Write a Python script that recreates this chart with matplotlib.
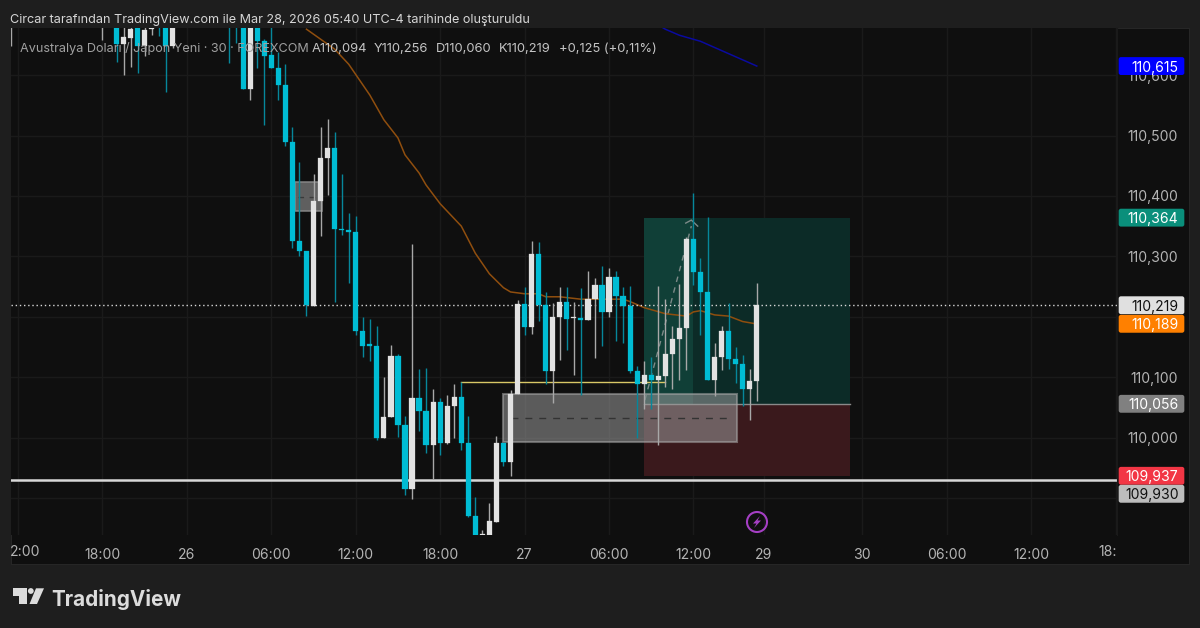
import matplotlib
matplotlib.use('Agg')
import matplotlib.pyplot as plt
from matplotlib.patches import Rectangle, FancyBboxPatch, Polygon, Circle

plt.rcParams['font.family'] = ['Inter', 'DejaVu Sans']

BG = '#1e1e1e'
PANEL = '#0f0f0f'
GRID = '#1a1a1a'
CYAN = '#00bcd4'
CYAN_W = '#06879b'
WHITE = '#e2e2e2'
WHITE_W = '#a8a8a8'

# bars are counted in 30 minute steps from 18:00 on the 25th
bars = [-13, 0, 2, 3, 4, 5, 6, 7, 8, 9, 10, 18, 19, 20, 21, 22, 23, 24, 25, 26, 27, 28, 29,
        30, 31, 32, 33, 34, 35, 36, 37, 38, 39, 40, 41, 42, 43, 44, 45, 46, 47, 48, 49, 50,
        51, 52, 53, 54, 55, 56, 57, 58, 59, 60, 61, 62, 63, 64, 65, 66, 67, 68, 69, 70, 71,
        72, 73, 74, 75, 76, 77, 78, 79, 80, 81, 82, 83, 84, 85, 86, 87, 88, 89, 90, 91, 92, 93]
opens = [110.700, 110.690, 110.700, 110.651, 110.661, 110.700, 110.648, 110.676, 110.700, 110.700, 110.648,
         110.720, 110.720, 110.700, 110.577, 110.700, 110.656, 110.633, 110.612, 110.584, 110.489, 110.325, 110.309,
         110.218, 110.392, 110.463, 110.479, 110.346, 110.344, 110.340, 110.176, 110.154, 110.152, 110.000, 110.034,
         110.135, 110.021, 109.915, 110.065, 110.044, 109.988, 110.058, 109.991, 110.053,
         110.067, 109.991, 109.870, 109.830, 109.830, 109.860, 109.991, 109.960, 110.072, 110.221, 110.183, 110.304,
         110.220, 110.110, 110.199, 110.225, 110.198, 110.198, 110.195, 110.229, 110.253,
         110.207, 110.265, 110.235, 110.217, 110.110, 110.088, 110.103, 110.095, 110.102, 110.139, 110.163, 110.181,
         110.329, 110.274, 110.241, 110.095, 110.133, 110.176, 110.130, 110.122, 110.080, 110.093]
highs = [110.720, 110.720, 110.720, 110.700, 110.690, 110.720, 110.690, 110.680, 110.720, 110.720, 110.720,
         110.730, 110.730, 110.720, 110.720, 110.720, 110.660, 110.680, 110.638, 110.618, 110.514, 110.456, 110.309,
         110.436, 110.514, 110.528, 110.505, 110.437, 110.372, 110.366, 110.200, 110.196, 110.185, 110.100, 110.153,
         110.139, 110.036, 110.320, 110.113, 110.115, 110.081, 110.065, 110.070, 110.089,
         110.092, 110.036, 109.901, 109.847, 109.891, 110.003, 109.991, 110.079, 110.228, 110.249, 110.326, 110.324,
         110.241, 110.222, 110.249, 110.249, 110.225, 110.247, 110.276, 110.264, 110.284,
         110.280, 110.276, 110.250, 110.251, 110.119, 110.126, 110.133, 110.251, 110.229, 110.185, 110.254, 110.332,
         110.404, 110.298, 110.365, 110.156, 110.185, 110.222, 110.150, 110.136, 110.113, 110.255]
lows = [110.648, 110.658, 110.622, 110.600, 110.613, 110.603, 110.632, 110.666, 110.665, 110.572, 110.645,
        110.620, 110.653, 110.577, 110.559, 110.612, 110.517, 110.612, 110.559, 110.483, 110.314, 110.301, 110.202,
        110.218, 110.334, 110.401, 110.225, 110.335, 110.256, 110.169, 110.133, 110.127, 109.996, 110.000, 110.034,
        110.001, 109.905, 109.898, 110.010, 109.975, 109.931, 109.971, 109.990, 109.999,
        109.979, 109.868, 109.820, 109.820, 109.820, 109.860, 109.953, 109.937, 110.072, 110.170, 110.171, 110.193,
        110.089, 110.057, 110.128, 110.145, 110.103, 110.070, 110.195, 110.132, 110.152,
        110.200, 110.160, 110.156, 110.107, 110.000, 110.047, 110.047, 109.988, 110.084, 110.081, 110.096, 110.112,
        110.252, 110.170, 110.095, 110.068, 110.112, 110.113, 110.090, 110.052, 110.029, 110.061]
closes = [110.710, 110.700, 110.651, 110.663, 110.676, 110.648, 110.675, 110.678, 110.680, 110.648, 110.700,
          110.700, 110.700, 110.577, 110.700, 110.656, 110.632, 110.612, 110.584, 110.489, 110.325, 110.309, 110.219,
          110.392, 110.463, 110.479, 110.345, 110.344, 110.340, 110.176, 110.152, 110.152, 110.000, 110.034, 110.135,
          110.021, 109.915, 110.065, 110.044, 109.988, 110.058, 109.991, 110.053, 110.067,
          109.991, 109.870, 109.830, 109.840, 109.861, 109.991, 109.960, 110.072, 110.221, 110.183, 110.304, 110.219,
          110.110, 110.199, 110.225, 110.196, 110.200, 110.195, 110.229, 110.253, 110.207,
          110.265, 110.235, 110.217, 110.110, 110.088, 110.103, 110.095, 110.102, 110.139, 110.163, 110.181, 110.329,
          110.274, 110.241, 110.095, 110.133, 110.176, 110.130, 110.122, 110.080, 110.093, 110.219]

ma_bars = [29, 33, 35, 38, 40, 42, 43, 45, 46, 48, 51, 53, 55, 57, 58, 60, 62, 63, 65, 68, 71, 74, 75, 76, 77,
           80, 83, 84, 85, 87, 89, 91, 93]
ma_vals = [110.676, 110.643, 110.618, 110.567, 110.526, 110.496, 110.468, 110.438, 110.418, 110.387, 110.350,
           110.305, 110.271, 110.248, 110.241, 110.238, 110.238, 110.233, 110.233, 110.229, 110.229, 110.229,
           110.225, 110.220, 110.215, 110.205, 110.201, 110.208, 110.210, 110.203, 110.201, 110.192, 110.188]
blue_bars = [79, 80, 82, 85, 93]
blue_vals = [110.683, 110.676, 110.666, 110.656, 110.615]

price_ticks = [109.9, 110.0, 110.1, 110.2, 110.3, 110.4, 110.5, 110.6]
# 109,900 and 110,200 sit fully under the price tags in the picture
price_labels = ['', '110,000', '110,100', '', '110,300', '110,400', '110,500', '110,600']
time_ticks = [0, 12, 24, 36, 48, 60, 72, 84, 94, 108, 120, 132]
time_labels = ['18:00', '26', '06:00', '12:00', '18:00', '27', '06:00', '12:00', '29', '30', '06:00', '12:00']
grid_extra = [-12, 144]

tags = [(110.615, '110,615', '#0000ff', '#ffffff'),
        (110.364, '110,364', '#0a8f7b', '#ffffff'),
        (110.219, '110,219', '#e0e0e0', '#111111'),
        (110.189, '110,189', '#ff8000', '#ffffff'),
        (110.056, '110,056', '#808080', '#ffffff'),
        (109.937, '109,937', '#f23645', '#ffffff'),
        (109.930, '109,930', '#bdbdbd', '#111111')]

last_price = 110.219
level_line = 109.930
yellow_level = 110.092
target, entry, stop = 110.364, 110.056, 109.937

fig = plt.figure(figsize=(12, 6.28), dpi=100, facecolor=BG)


def box(l, t, r, b):
    return [l / 1200, 1 - b / 628, (r - l) / 1200, (b - t) / 628]


back = fig.add_axes([0, 0, 1, 1], zorder=0)
back.set_xlim(0, 1200)
back.set_ylim(628, 0)
back.axis('off')
back.add_patch(Rectangle((11, 28), 1178, 536, fc=PANEL, ec='#2a2a2a', lw=0.6))

ax = fig.add_axes(box(11, 28, 1117, 535), zorder=1)
ax.set_facecolor(PANEL)
ax.set_xlim(-13.0, 144.2)
ax.set_ylim(109.8386, 110.678)
for s in ['top', 'left', 'bottom']:
    ax.spines[s].set_visible(False)
ax.spines['right'].set_color(GRID)

ax.set_xticks(time_ticks)
ax.set_xticklabels(time_labels, fontsize=10.1, color='#b4b4b4')
ax.set_yticks(price_ticks)
ax.yaxis.tick_right()
ax.set_yticklabels(price_labels, fontsize=10.1, color='#b4b4b4', ha='right')
ax.tick_params(axis='both', length=0)
ax.tick_params(axis='y', pad=44)
ax.tick_params(axis='x', pad=9.5)
ax.grid(True, color=GRID, lw=1)
ax.set_axisbelow(True)
for g in grid_extra:
    ax.axvline(g, color=GRID, lw=1, zorder=0.5)

# long position zones
ax.add_patch(Rectangle((77, entry), 7, target - entry, fc='#103f37', ec='none', zorder=1))
ax.add_patch(Rectangle((84, entry), 22.2, target - entry, fc='#0c2b27', ec='none', zorder=1))
ax.add_patch(Rectangle((77, stop), 29.2, entry - stop, fc='#3a191c', ec='none', zorder=1))
ax.plot([77, 106.2], [entry, entry], color='#8a8a8a', lw=1, zorder=1.2)

# grey boxes with dashed middle
ax.add_patch(Rectangle((27.4, 110.375), 3.8, 0.048, fc='#6e6e6e', ec='#8a8a8a', lw=1.2, alpha=0.85, zorder=1.5))
ax.plot([27.8, 31], [110.399, 110.399], color='#3a3a3a', lw=1, ls=(0, (4, 4)), zorder=1.6)
ax.add_patch(Rectangle((57, 109.992), 33.2, 0.08, fc='#9a9a9a', ec='#a8a8a8', lw=1.5, alpha=0.55, zorder=1.5))
ax.plot([58, 89.5], [110.032, 110.032], color='#333333', lw=1, ls=(0, (5, 5)), zorder=1.6)

# dashed arrow of the position
ax.plot([77.1, 83.7], [110.062, 110.350], color='#7d8a88', lw=1, ls=(0, (4, 4)), zorder=1.7)
ax.plot([82.9, 83.7, 84.6], [110.355, 110.360, 110.350], color='#7d8a88', lw=1, zorder=1.7)

ax.plot([51, 80], [yellow_level, yellow_level], color='#d8c766', lw=1, zorder=1.8)
ax.plot(ma_bars, ma_vals, color='#8f4e0e', lw=1.1, zorder=2)
ax.plot(blue_bars, blue_vals, color='#0a0aa0', lw=1.1, zorder=2)
ax.axhline(level_line, color='#d8d8d8', lw=1.8, zorder=2.5)
ax.axhline(last_price, color='#d8d8d8', lw=1, ls=(0, (1, 2)), zorder=2.5)

# candles
for b, o, h, l, c in zip(bars, opens, highs, lows, closes):
    up = c >= o
    ax.vlines(b, l, h, color=WHITE_W if up else CYAN_W, lw=1.0, zorder=3)
    ax.bar(b, abs(c - o), bottom=min(o, c), width=0.74, color=WHITE if up else CYAN,
           edgecolor=WHITE if up else CYAN, lw=0.2, zorder=4)

top = fig.add_axes([0, 0, 1, 1], zorder=2)
top.set_xlim(0, 1200)
top.set_ylim(628, 0)
top.axis('off')
top.patch.set_alpha(0)


def price_y(p):
    return 628 - ax.transData.transform((0, p))[1]


for p, txt, fc, tc in tags:
    y = price_y(p)
    if txt == '110,189':
        y = 323.8
    if txt == '109,937':
        y = 475.8
    if txt == '109,930':
        y = 493.8
    if txt == '110,056':
        y = 403.8
    top.add_patch(FancyBboxPatch((1119.5, y - 8.1), 64, 16.2, boxstyle='round,pad=0,rounding_size=1.5',
                                 fc=fc, ec=fc, lw=1.2))
    top.text(1178.5, y, txt, ha='right', va='center_baseline', fontsize=10.1, color=tc)

# clipped time labels at both ends
top.text(10, 551, '2:00', ha='left', va='center_baseline', fontsize=10.1, color='#b4b4b4')
top.text(1117, 551, '18:', ha='right', va='center_baseline', fontsize=10.1, color='#b4b4b4')

top.text(10, 18.5, 'Circar tarafından TradingView.com ile Mar 28, 2026 05:40 UTC-4 tarihinde oluşturuldu',
         ha='left', va='center_baseline', fontsize=9.1, color='#d6d6d6')
top.text(20, 47, 'Avustralya Doları / Japon Yeni · 30 · FOREXCOM', ha='left', va='center_baseline',
         fontsize=9.1, color='#a0a0a0')
for x, txt in [(312, 'A110,094'), (374, 'Y110,256'), (436, 'D110,060'), (499, 'K110,219'), (559, '+0,125 (+0,11%)')]:
    top.text(x, 47, txt, ha='left', va='center_baseline', fontsize=9.3, color='#c4c4c4')

# earnings style lightning mark
top.add_patch(Circle((757, 522), 10, fc='none', ec='#a53fc4', lw=1.5))
top.add_patch(Polygon([(760, 516), (753, 523.5), (756.5, 523.5), (754, 528), (761, 520.5), (757.5, 520.5)],
                      closed=True, fc='#a53fc4', ec='none'))

# TradingView logo
logo = '#dcdcdc'
top.add_patch(Polygon([(12.7, 588.3), (27.3, 588.3), (27.3, 604), (19.3, 604), (19.3, 595.7), (12.7, 595.7)],
                      closed=True, fc=logo, ec='none'))
top.add_patch(Circle((30.8, 591), 2.9, fc=logo, ec='none'))
top.add_patch(Polygon([(36, 588.3), (44, 588.3), (37, 604), (29.5, 604)], closed=True, fc=logo, ec='none'))
top.text(51, 597, 'TradingView', ha='left', va='center_baseline', fontsize=14.9, fontweight='bold', color=logo)

fig.savefig('out.png', dpi=100, facecolor=BG)
